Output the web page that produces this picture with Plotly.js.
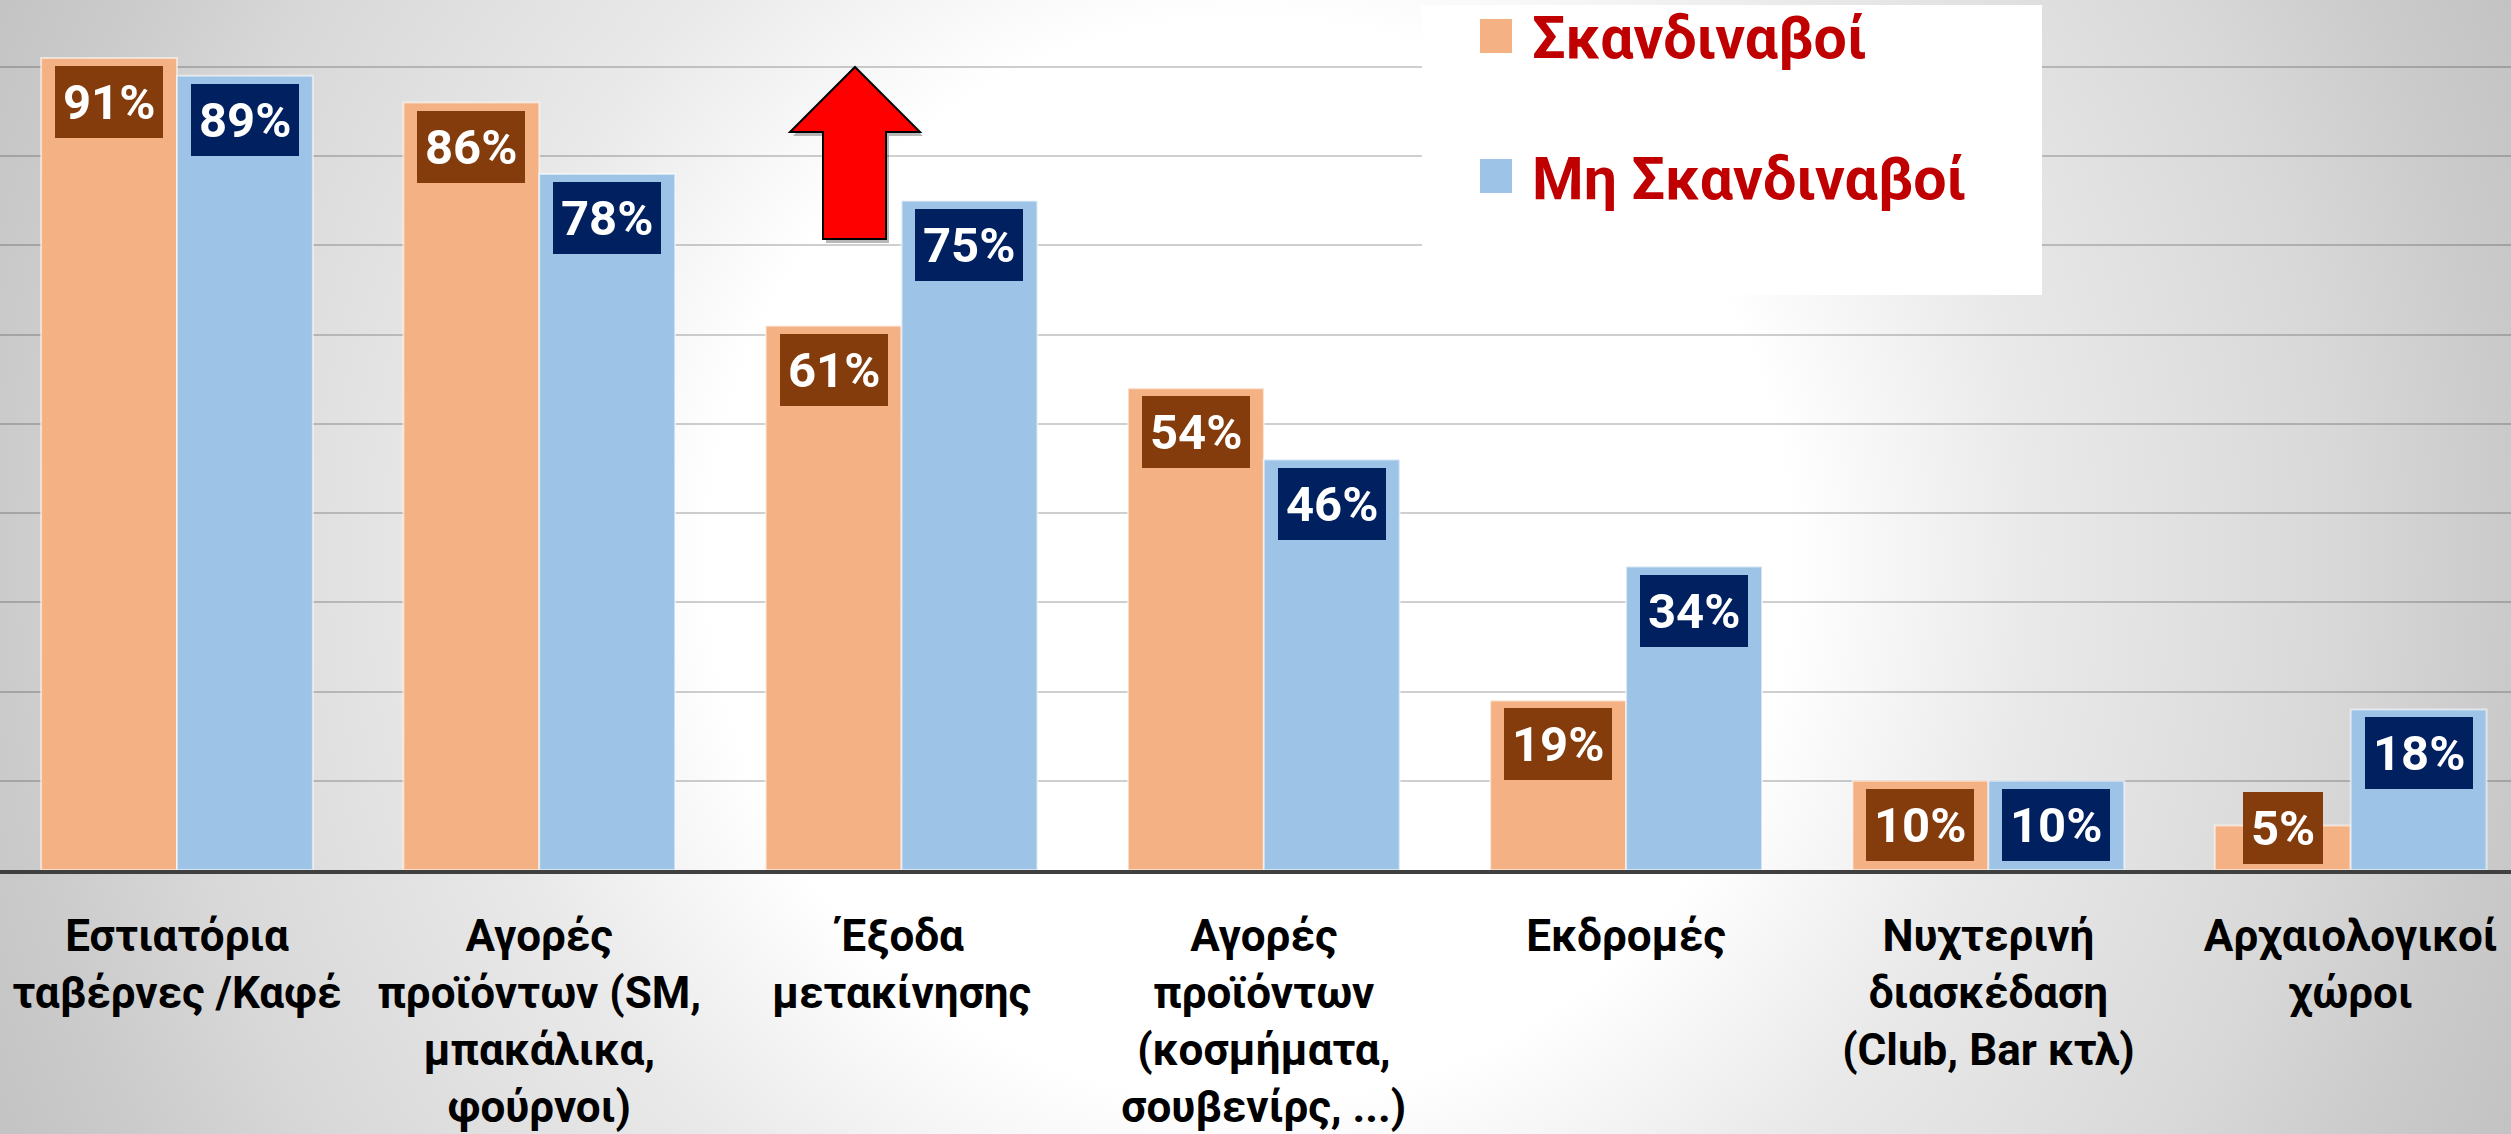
<!DOCTYPE html>
<html>
<head>
<meta charset="utf-8">
<script src="https://cdn.plot.ly/plotly-3.0.1.min.js"></script>
<style>
  html, body { margin: 0; padding: 0; overflow: hidden; }
  #chart {
    width: 2511px; height: 1134px;
    background: radial-gradient(ellipse 1400px 1400px at 1250px 560px,
      #ffffff 0px, #ffffff 540px, #e9e9e9 785px, #d8d8d8 1090px, #cbcbcb 1250px, #c3c3c3 1380px);
  }
</style>
</head>
<body>
<div id="chart"></div>
<script>
// ---- data ----
const categories = [
  "Εστιατόρια<br>ταβέρνες /Καφέ",
  "Αγορές<br>προϊόντων (SM,<br>μπακάλικα,<br>φούρνοι)",
  "Έξοδα<br>μετακίνησης",
  "Αγορές<br>προϊόντων<br>(κοσμήματα,<br>σουβενίρς, ...)",
  "Εκδρομές",
  "Νυχτερινή<br>διασκέδαση<br>(Club, Bar κτλ)",
  "Αρχαιολογικοί<br>χώροι"
];
const seriesNames = ["Σκανδιναβοί", "Μη Σκανδιναβοί"];
const scandinavians = [91, 86, 61, 54, 19, 10, 5];
const nonScandinavians = [89, 78, 75, 46, 34, 10, 18];

// ---- style ----
const W = 2511, H = 1134, MB = 264;
const PH = H - MB;                 // plot height in px
const YMAX = 97.5;
const pxPerUnit = PH / YMAX;
const FONT = "Roboto, 'Open Sans', sans-serif";
const barColors = ["#F4B183", "#9DC3E6"];
const boxColors = ["#843C0C", "#002060"];
const legendText = "#C00000";
const BOX_H = 56, BOX_PAD = 8;

function X(px) { return px / W; }
function Y(py) { return (PH - py) / PH; }

const traces = [scandinavians, nonScandinavians].map((vals, k) => ({
  type: "bar",
  name: seriesNames[k],
  x: categories,
  y: vals,
  marker: { color: barColors[k], line: { color: "rgba(255,255,255,0.55)", width: 2 } },
  showlegend: false,
  hoverinfo: "skip"
}));

// value labels (boxes)
const annotations = [];
[scandinavians, nonScandinavians].forEach((vals, k) => {
  vals.forEach((v, i) => {
    const xpos = i + (k === 0 ? -0.1875 : 0.1875);
    const topAnchoredBottom = v * pxPerUnit - 8 - (BOX_H + 2 * BOX_PAD);
    const a = {
      x: xpos, xref: "x", yref: "y",
      text: v + "%",
      showarrow: false,
      font: { family: FONT, size: 49, color: "#ffffff", weight: "bold" },
      bgcolor: boxColors[k],
      borderpad: BOX_PAD,
      borderwidth: 0,
      height: BOX_H,
      valign: "middle"
    };
    if (topAnchoredBottom >= 6) {
      a.y = v; a.yanchor = "top"; a.yshift = -8;
    } else {
      a.y = 0; a.yanchor = "bottom"; a.yshift = 6;
    }
    annotations.push(a);
  });
});

// legend (custom)
const legendItems = [
  { sq: [1480, 19, 1512, 53], ty: 37 },
  { sq: [1480, 159, 1512, 193], ty: 178 }
];
const shapes = [
  { type: "rect", xref: "paper", yref: "paper", layer: "above",
    x0: X(1422), x1: X(2042), y0: Y(295), y1: Y(5),
    fillcolor: "#ffffff", line: { width: 0 } }
];
legendItems.forEach((it, k) => {
  shapes.push({ type: "rect", xref: "paper", yref: "paper", layer: "above",
    x0: X(it.sq[0]), x1: X(it.sq[2]), y0: Y(it.sq[3]), y1: Y(it.sq[1]),
    fillcolor: barColors[k], line: { width: 0 } });
  annotations.push({
    xref: "paper", yref: "paper", x: X(1530), y: Y(it.ty),
    xanchor: "left", yanchor: "middle", showarrow: false,
    text: seriesNames[k],
    font: { family: FONT, size: 59, color: legendText, weight: "bold" }
  });
});

// red up arrow (decoration)
const arrowPts = [[855, 67], [920, 132], [886, 132], [886, 239], [823, 239], [823, 132], [790, 132]];
function pathFrom(pts, dx, dy) {
  return pts.map((p, i) => (i ? "L" : "M") + X(p[0] + dx).toFixed(5) + "," + Y(p[1] + dy).toFixed(5)).join(" ") + " Z";
}
shapes.push({ type: "path", xref: "paper", yref: "paper", layer: "above",
  path: pathFrom(arrowPts, 3, 4), fillcolor: "rgba(0,0,0,0.28)", line: { width: 0 } });
shapes.push({ type: "path", xref: "paper", yref: "paper", layer: "above",
  path: pathFrom(arrowPts, 0, 0), fillcolor: "#FF0000", line: { color: "#000000", width: 2 } });

const layout = {
  width: W, height: H, autosize: false,
  margin: { l: 0, r: 0, t: 0, b: MB, pad: 0 },
  paper_bgcolor: "rgba(0,0,0,0)",
  plot_bgcolor: "rgba(0,0,0,0)",
  barmode: "group",
  bargap: 0.25,
  bargroupgap: 0,
  showlegend: false,
  font: { family: FONT },
  xaxis: {
    type: "category",
    range: [-0.4885, 6.4425],
    showline: true, linecolor: "#404040", linewidth: 4,
    ticks: "", showgrid: false, zeroline: false,
    tickfont: { family: FONT, size: 44, color: "#000000", weight: "bold" },
    ticklabelstandoff: 24,
    fixedrange: true
  },
  yaxis: {
    range: [0, YMAX],
    dtick: 10, tick0: 0,
    showticklabels: false, ticks: "",
    showgrid: true, gridcolor: "rgba(0,0,0,0.19)", gridwidth: 2,
    zeroline: false, showline: false,
    fixedrange: true
  },
  annotations: annotations,
  shapes: shapes
};

Plotly.newPlot("chart", traces, layout, { staticPlot: true, displayModeBar: false });
</script>
</body>
</html>
